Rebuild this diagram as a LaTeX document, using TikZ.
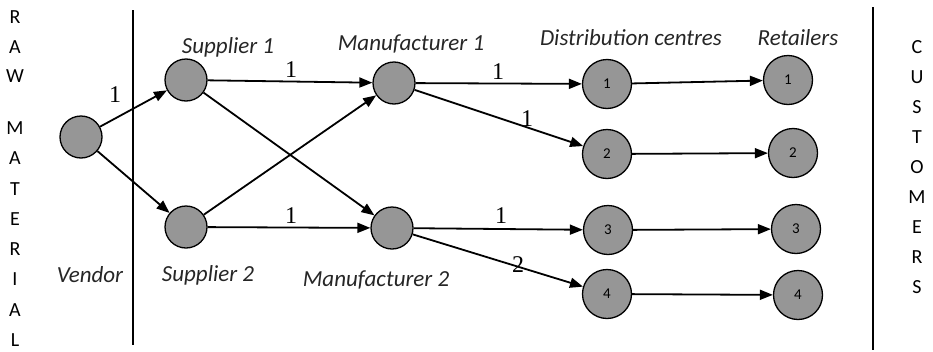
\documentclass[tikz,border=0pt]{standalone}
\usepackage{fontspec}
\setmainfont{Carlito}
\newfontfamily\seriffont{Liberation Serif}
\usetikzlibrary{arrows.meta}
\definecolor{nodegray}{RGB}{150,150,150}
\begin{document}
\begin{tikzpicture}[x=1pt,y=-1pt,
  dot/.style={circle,draw=black,line width=1.3pt,fill=nodegray,inner sep=0pt,minimum size=42pt},
  bigdot/.style={circle,draw=black,line width=1.3pt,fill=nodegray,inner sep=0pt,minimum size=49pt,font=\fontsize{15}{17}\selectfont},
  flow/.style={line width=1.8pt,-{Triangle[length=13pt,width=10pt]}},
  elabel/.style={font=\seriffont\fontsize{24}{26}\selectfont,inner sep=0pt},
  stage/.style={font=\itshape\fontsize{23}{26}\selectfont,text=black!85,inner sep=0pt},
  letter/.style={font=\fontsize{20}{22}\selectfont,inner sep=0pt},
  divider/.style={line width=1.3pt}]
\useasboundingbox (0,0) rectangle (933,351);
% dividers
\coordinate (lt) at (133,10); \coordinate (lb) at (133,345);
\coordinate (rt) at (873,7);  \coordinate (rb) at (873,350);
\draw[divider] (lt) -- (lb);
\draw[divider] (rt) -- (rb);
% side letters
\foreach \ch/\yy [count=\i] in {R/17,A/47,W/76,M/128,A/158,T/189,E/219,R/249,I/279,A/310,L/340}
  \node[letter] (raw\i) at (15,\yy) {\ch};
\foreach \ch/\yy [count=\i] in {C/47,U/77,S/107,T/137,O/167,M/197,E/227,R/257,S/287}
  \node[letter] (cus\i) at (917,\yy) {\ch};
% nodes
\node[dot] (V)  at (81,137) {};
\node[dot] (S1) at (186,80) {};
\node[dot] (S2) at (186,227) {};
\node[dot] (M1) at (394,83) {};
\node[dot] (M2) at (392,228) {};
\node[bigdot] (D1) at (607,84) {1};
\node[bigdot] (D2) at (607,154) {2};
\node[bigdot] (D3) at (608,230) {3};
\node[bigdot] (D4) at (607,294) {4};
\node[bigdot] (R1) at (788,80) {1};
\node[bigdot] (R2) at (793,153) {2};
\node[bigdot] (R3) at (796,229) {3};
\node[bigdot] (R4) at (798,295) {4};
% stage labels
\node[stage] (tV)  at (90,275) {Vendor};
\node[stage] (tS1) at (228,47) {Supplier 1};
\node[stage] (tS2) at (208,275) {Supplier 2};
\node[stage] (tM1) at (411,44) {Manufacturer 1};
\node[stage] (tM2) at (376,280) {Manufacturer 2};
\node[stage] (tD)  at (631,38) {Distribution centres};
\node[stage] (tR)  at (798,38) {Retailers};
% connectors
\draw[flow] (V) -- (S1);
\draw[flow] (V) -- (S2);
\draw[flow] (S1) -- (M1);
\draw[flow] (S1) -- (M2);
\draw[flow] (S2) -- (M1);
\draw[flow] (S2) -- (M2);
\draw[flow] (M1) -- (D1);
\draw[flow] (M1) -- (D2);
\draw[flow] (M2) -- (D3);
\draw[flow] (M2) -- (D4);
\draw[flow] (D1) -- (R1);
\draw[flow] (D2) -- (R2);
\draw[flow] (D3) -- (R3);
\draw[flow] (D4) -- (R4);
% edge labels
\node[elabel] (e1) at (115,95) {1};
\node[elabel] (e2) at (291,70) {1};
\node[elabel] (e3) at (291,216) {1};
\node[elabel] (e4) at (498,72) {1};
\node[elabel] (e5) at (527,119) {1};
\node[elabel] (e6) at (501,216) {1};
\node[elabel] (e7) at (518,265) {2};
\end{tikzpicture}
\end{document}
